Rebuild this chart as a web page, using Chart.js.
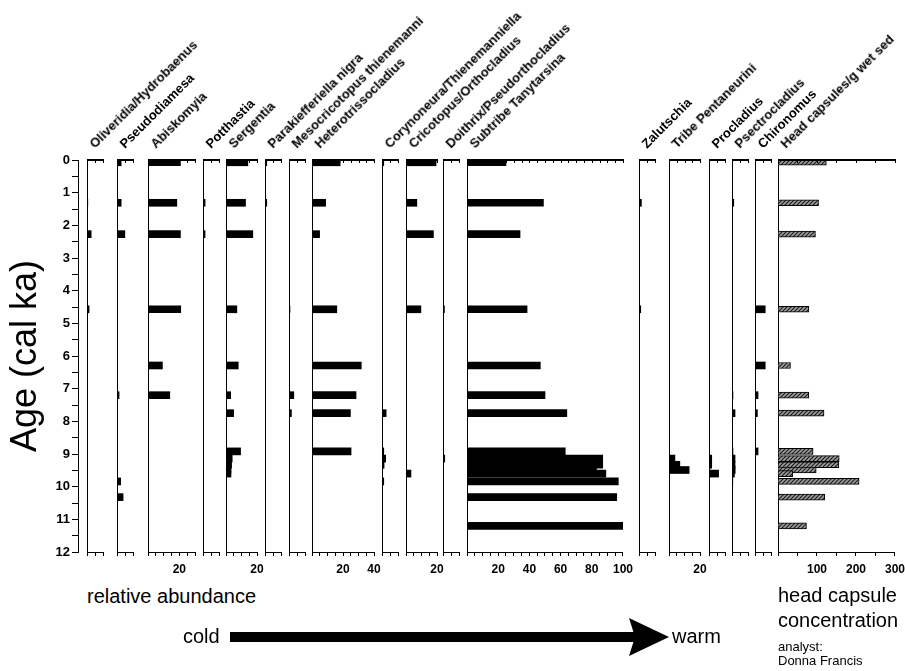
<!DOCTYPE html>
<html>
<head>
<meta charset="utf-8">
<script src="https://cdn.jsdelivr.net/npm/chart.js@4.4.1/dist/chart.umd.min.js"></script>
<style>
  body { margin: 0; background: #fff; font-family: "Liberation Sans", Arial, sans-serif; color: #000; }
  #wrap { position: relative; width: 905px; height: 671px; overflow: hidden; }
  .panel { position: absolute; }
  .panel canvas { display: block; }
  .taxon { position: absolute; font-weight: bold; font-size: 13px; line-height: 14px; white-space: nowrap;
           transform-origin: 0 100%; transform: rotate(-45deg); }
  .note { position: absolute; white-space: nowrap; }
</style>
</head>
<body>
<div id="wrap"></div>
<script>
// sample ages (cal ka BP)
const ages = [0.07, 1.31, 2.27, 4.57, 6.29, 7.2, 7.75, 8.92, 9.14, 9.33, 9.49, 9.6, 9.84, 10.32, 11.2];

// relative abundance (%) per taxon, one value per sample
const oliveridia       = [0, 0.5, 2.6, 1.3, 0, 0, 0, 0, 0, 0, 0, 0, 0, 0, 0];
const pseudodiamesa    = [2.6, 2.6, 4.9, 0, 0, 1.3, 0, 0, 0, 0, 0, 0, 2.3, 3.8, 0];
const abiskomyia       = [20.7, 18.4, 20.7, 20.9, 9.2, 13.9, 0, 0, 0, 0, 0, 0, 0, 0, 0];
const potthastia       = [0, 1.3, 1.3, 0, 0, 0, 0, 0, 0, 0, 0, 0, 0, 0, 0];
const sergentia        = [14.1, 12.6, 17.3, 7, 7.9, 3, 4.9, 9.4, 4, 3.6, 3.2, 3.2, 0, 0, 0];
const parakiefferiella = [1.1, 1.1, 0, 0, 0, 0, 0, 0, 0, 0, 0, 0, 0, 0, 0];
const mesocricotopus   = [0, 0, 0, 0.6, 0, 3, 1.5, 0, 0, 0, 0, 0, 0, 0, 0];
const heterotrisso     = [18.2, 8.8, 4.9, 16, 31.8, 28.4, 24.8, 25.2, 0, 0, 0, 0, 0, 0, 0];
const corynoneura      = [1.1, 0, 0, 0, 0, 0, 2.6, 1.1, 2.3, 1.3, 0, 0, 1.1, 0, 0];
const cricotopus       = [19.4, 7, 17.7, 9.6, 0, 0, 0, 0, 0.4, 0, 0, 3.2, 0, 0, 0];
const doithrix         = [0, 0, 0, 0.9, 0, 0, 0, 0, 1.1, 0, 0, 0, 0, 0, 0];
const tanytarsina      = [25, 49, 34, 38.5, 47, 50, 64, 63, 87, 87, 83, 89, 97, 96, 100];
const zalutschia       = [0, 1.5, 0, 1.1, 0, 0, 0, 0, 0, 0, 0, 0, 0, 0, 0];
const pentaneurini     = [0, 0, 0, 0, 0, 0, 0, 0, 3.8, 7, 13, 0, 0, 0, 0];
const procladius       = [0, 0, 0, 0, 0, 0, 0, 0, 1.7, 1.7, 0, 6, 0, 0, 0];
const psectrocladius   = [0, 1.1, 0, 0, 0, 0.6, 1.9, 0.6, 1.9, 1.9, 2, 1.5, 0.5, 0, 0];
const chironomus       = [0, 0, 0, 6.4, 6.4, 1.9, 1.5, 1.9, 0, 0, 0, 0, 0, 0, 0];

// head capsules per g wet sediment
const headCapsules     = [124, 104, 96, 79, 32, 79, 118, 90, 157, 156, 98, 38, 208, 120, 73];

// age axis tick labels
const ageLabels = [0, 1, 2, 3, 4, 5, 6, 7, 8, 9, 10, 11, 12];

Chart.defaults.font.family = "'Liberation Sans', Arial, sans-serif";
Chart.defaults.color = '#000';

const wrap = document.getElementById('wrap');
const TOP = 140, TOP_H = 20, PLOT_H = 392, BOTTOM_H = 28;
const PCT = 1.56;           // px per percent
const HC = 117 / 300;       // px per head capsule

const panels = [
  { name: 'Oliveridia/Hydrobaenus',      values: oliveridia,       max: 10,  left: 87 },
  { name: 'Pseudodiamesa',               values: pseudodiamesa,    max: 10,  left: 117 },
  { name: 'Abiskomyia',                  values: abiskomyia,       max: 30,  left: 148 },
  { name: 'Potthastia',                  values: potthastia,       max: 10,  left: 203 },
  { name: 'Sergentia',                   values: sergentia,        max: 20,  left: 226 },
  { name: 'Parakiefferiella nigra',      values: parakiefferiella, max: 10,  left: 265 },
  { name: 'Mesocricotopus thienemanni',  values: mesocricotopus,   max: 10,  left: 289 },
  { name: 'Heterotrissocladius',         values: heterotrisso,     max: 40,  left: 312 },
  { name: 'Corynoneura/Thienemanniella', values: corynoneura,      max: 10,  left: 382 },
  { name: 'Cricotopus/Orthocladius',     values: cricotopus,       max: 20,  left: 406 },
  { name: 'Doithrix/Pseudorthocladius',  values: doithrix,         max: 10,  left: 443 },
  { name: 'Subtribe Tanytarsina',        values: tanytarsina,      max: 100, left: 467 },
  { name: 'Zalutschia',                  values: zalutschia,       max: 10,  left: 639 },
  { name: 'Tribe Pentaneurini',          values: pentaneurini,     max: 20,  left: 669 },
  { name: 'Procladius',                  values: procladius,       max: 10,  left: 709 },
  { name: 'Psectrocladius',              values: psectrocladius,   max: 10,  left: 732 },
  { name: 'Chironomus',                  values: chironomus,       max: 10,  left: 755 },
  { name: 'Head capsules/g wet sed',     values: headCapsules,     max: 300, left: 778, hatched: true }
];

function hatchPattern() {
  const c = document.createElement('canvas');
  c.width = 4; c.height = 4;
  const g = c.getContext('2d');
  g.fillStyle = '#9c9c9c';
  g.fillRect(0, 0, 4, 4);
  g.strokeStyle = '#1e1e1e';
  g.lineWidth = 1.2;
  g.beginPath();
  g.moveTo(-1, 5); g.lineTo(5, -1);
  g.moveTo(-1, 1); g.lineTo(1, -1);
  g.moveTo(3, 5); g.lineTo(5, 3);
  g.stroke();
  return g.createPattern(c, 'repeat');
}

// upper frame line of each panel, ticked from the x scale
const topAxis = {
  id: 'topAxis',
  afterDraw(chart) {
    const { ctx, chartArea: a, scales: { x } } = chart;
    const y = Math.round(a.top);
    ctx.save();
    ctx.fillStyle = '#000';
    ctx.fillRect(Math.round(a.left), y - 1, Math.round(a.right - a.left) + 1, 2);
    x.ticks.forEach(t => {
      const px = Math.round(x.getPixelForValue(t.value));
      ctx.fillRect(px, y, 1, 3);
    });
    ctx.restore();
  }
};

function addCanvas(left, width) {
  const box = document.createElement('div');
  box.className = 'panel';
  box.style.left = left + 'px';
  box.style.top = TOP + 'px';
  const cv = document.createElement('canvas');
  cv.width = width;
  cv.height = TOP_H + PLOT_H + BOTTOM_H;
  box.appendChild(cv);
  wrap.appendChild(box);
  return cv;
}

// age axis on the far left
new Chart(addCanvas(0, 92), {
  type: 'scatter',
  data: { datasets: [] },
  options: {
    responsive: false, animation: false,
    layout: { padding: { top: TOP_H, bottom: BOTTOM_H, left: 0, right: 0 } },
    plugins: { legend: { display: false }, tooltip: { enabled: false } },
    scales: {
      x: { display: false, min: 0, max: 1 },
      y: {
        position: 'left', min: 0, max: 12, reverse: true, offset: false,
        ticks: {
          stepSize: 0.5, autoSkip: false, padding: 2,
          font: { size: 13, weight: 'bold' },
          callback: v => ageLabels.includes(v) ? String(v) : ''
        },
        grid: { drawOnChartArea: false, tickLength: 6, color: '#000' },
        border: { display: true, color: '#000' },
        title: { display: true, text: 'Age (cal ka)', font: { size: 36 }, padding: { top: 4, bottom: 0 } },
        afterFit: s => { s.width = 78; }
      }
    }
  }
});

const hatch = hatchPattern();
const PAD = 16;

panels.forEach(p => {
  const scale = p.hatched ? HC : PCT;
  const w = Math.round(p.max * scale);
  const step = p.hatched ? 50 : 5;
  const cv = addCanvas(p.left - PAD, w + 2 * PAD);

  const tickLabel = v => {
    if (p.hatched) return v > 0 && v % 100 === 0 ? String(v) : '';
    return v >= 20 && v % 20 === 0 ? String(v) : '';
  };

  new Chart(cv, {
    type: 'bar',
    data: {
      datasets: [{
        data: ages.map((a, i) => ({ x: p.values[i], y: a })),
        backgroundColor: p.hatched ? hatch : '#000',
        borderColor: '#000',
        borderWidth: p.hatched ? 1 : 0,
        barThickness: p.hatched ? 6 : 7
      }]
    },
    plugins: [topAxis],
    options: {
      indexAxis: 'y',
      responsive: false, animation: false,
      layout: { padding: { left: PAD, right: PAD, top: TOP_H, bottom: 0 } },
      plugins: { legend: { display: false }, tooltip: { enabled: false } },
      scales: {
        y: {
          type: 'linear', min: 0, max: 12, reverse: true, offset: false,
          ticks: { display: false },
          grid: { display: false, offset: false },
          border: { display: true, color: '#000', width: 1 },
          afterFit: s => { s.width = 0; }
        },
        x: {
          type: 'linear', position: 'bottom', min: 0, max: p.max,
          ticks: {
            stepSize: step, autoSkip: false, maxRotation: 0, padding: 6,
            font: { size: 12, weight: 'bold' },
            callback: tickLabel
          },
          grid: { drawOnChartArea: false, tickLength: 4, color: '#000' },
          border: { display: true, color: '#000' },
          afterFit: s => { s.height = BOTTOM_H; }
        }
      }
    }
  });

  const t = document.createElement('div');
  t.className = 'taxon';
  t.textContent = p.name;
  t.style.left = (p.left + 10) + 'px';
  t.style.top = '137px';
  wrap.appendChild(t);
});

function note(text, left, top, size, extra) {
  const d = document.createElement('div');
  d.className = 'note';
  d.innerHTML = text;
  d.style.left = left + 'px';
  d.style.top = top + 'px';
  d.style.fontSize = size + 'px';
  if (extra) Object.assign(d.style, extra);
  wrap.appendChild(d);
}

note('relative abundance', 87, 585, 20);
note('head capsule<br>concentration', 778, 583, 20, { lineHeight: '25px' });
note('cold', 183, 625, 20);
note('warm', 672, 625, 20);
note('analyst:<br>Donna Francis', 778, 640, 13, { lineHeight: '14px' });

// cold -> warm arrow
const svgNS = 'http://www.w3.org/2000/svg';
const svg = document.createElementNS(svgNS, 'svg');
svg.setAttribute('width', '450');
svg.setAttribute('height', '45');
svg.style.position = 'absolute';
svg.style.left = '225px';
svg.style.top = '615px';
const shaft = document.createElementNS(svgNS, 'rect');
shaft.setAttribute('x', '5'); shaft.setAttribute('y', '17');
shaft.setAttribute('width', '405'); shaft.setAttribute('height', '10');
const head = document.createElementNS(svgNS, 'polygon');
head.setAttribute('points', '404,3 444,22 404,41 410,22');
svg.appendChild(shaft);
svg.appendChild(head);
wrap.appendChild(svg);
</script>
</body>
</html>
